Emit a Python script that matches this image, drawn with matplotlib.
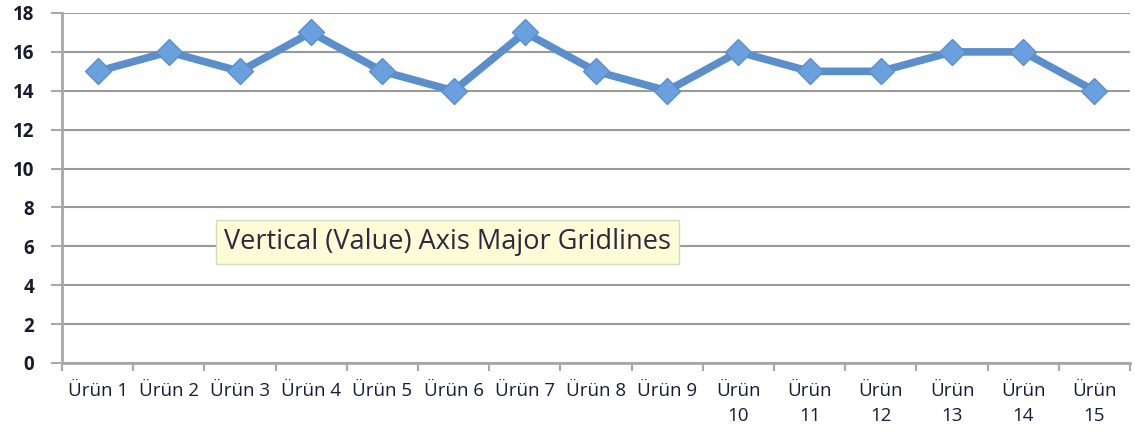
import matplotlib.pyplot as plt

categories = ["Ürün 1", "Ürün 2", "Ürün 3", "Ürün 4", "Ürün 5", "Ürün 6", "Ürün 7",
              "Ürün 8", "Ürün 9", "Ürün\n10", "Ürün\n11", "Ürün\n12", "Ürün\n13",
              "Ürün\n14", "Ürün\n15"]
values = [15, 16, 15, 17, 15, 14, 17, 15, 14, 16, 15, 15, 16, 16, 14]
yticks = [0, 2, 4, 6, 8, 10, 12, 14, 16, 18]

plt.rcParams['font.family'] = ['Open Sans', 'DejaVu Sans']

fig = plt.figure(figsize=(11.35, 4.45), dpi=100)
ax = fig.add_axes([62 / 1135, 1 - 363 / 445, 1068 / 1135, 350 / 445])

x = list(range(len(values)))
ax.plot(x, values, color='#5b8fcc', lw=5.5, marker='D', ms=13,
        markerfacecolor='#6aa0de', markeredgecolor='#5b8fcc', zorder=3)

ax.set_xlim(-0.5, len(values) - 0.5)
ax.set_ylim(0, 18)
ax.set_yticks(yticks)
ax.set_yticklabels([str(v) for v in yticks], fontsize=13.5, color='#1a1a2e', fontweight='bold')
ax.set_xticks(x)
ax.set_xticklabels(categories, fontsize=13.5, color='#1a1a3a', linespacing=1.45)
ax.set_xticks([i - 0.5 for i in range(len(values) + 1)], minor=True)
ax.tick_params(axis='x', which='major', length=0, pad=14)
ax.tick_params(axis='x', which='minor', length=6, color='#a8a8a8', width=1.5)
ax.tick_params(axis='y', length=8, color='#a8a8a8', width=1.5, pad=12)

ax.grid(axis='y', color='#9a9a9a', lw=1.5)
ax.set_axisbelow(True)
for s in ['top', 'right']:
    ax.spines[s].set_visible(False)
for s in ['left', 'bottom']:
    ax.spines[s].set_color('#a8a8a8')
    ax.spines[s].set_linewidth(2)

# tooltip
fig.text(224 / 1135, 1 - 242 / 445, "Vertical (Value) Axis Major Gridlines",
         fontsize=19.5, color='#2a2a40', va='center', ha='left',
         bbox=dict(boxstyle='square,pad=0.3', fc='#fdfcd6', ec='#d8d8c0', lw=1))

fig.savefig('out.png', dpi=100)
